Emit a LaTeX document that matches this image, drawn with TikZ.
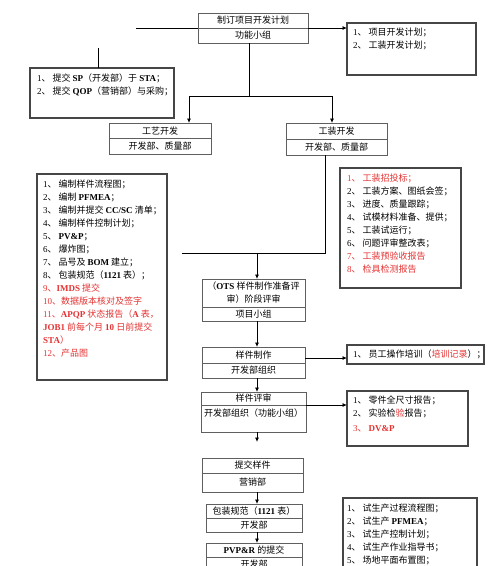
\documentclass[tikz,border=0pt]{standalone}
\usepackage{fontspec}
\setmainfont{Noto Sans CJK SC}
\newfontfamily\tnr{Liberation Serif}
\usepackage{tikz}
\usetikzlibrary{arrows.meta,positioning,calc}

\definecolor{hot}{RGB}{228,50,50}
\definecolor{boxgray}{RGB}{95,95,95}
\definecolor{notegray}{RGB}{70,70,70}
\newcommand{\lt}[1]{{\tnr\bfseries #1}}
\newcommand{\no}[1]{{\tnr #1}、}

\begin{document}
\begin{tikzpicture}[x=1pt, y=-1pt,
    font=\fontsize{9}{13}\selectfont,
    cell/.style={rectangle, draw=boxgray, line width=0.8pt, inner sep=0pt,
                outer sep=0pt, minimum height=15pt},
    note/.style={rectangle, draw=notegray, line width=1.1pt, inner sep=0pt,
                outer sep=0pt, anchor=north west},
    list/.style={anchor=north west, align=left, inner sep=0pt},
    wire/.style={line width=0.8pt},
    arr/.style={-{Latex[length=4.5pt, width=4pt]}, line width=0.8pt},
]
\useasboundingbox (0,0) rectangle (500,566);
\clip (0,0) rectangle (500,566);

% --- Main chain ---
\node[cell, minimum width=110pt, anchor=north] (plan) at (253,13) {制订项目开发计划};
\node[cell, minimum width=110pt, below=0pt of plan] (plan-g) {功能小组};
\node[cell, minimum width=102pt, minimum height=15.5pt, anchor=north] (gy) at (160,123) {工艺开发};
\node[cell, minimum width=102pt, minimum height=16pt, below=0pt of gy] (gy-g) {开发部、质量部};
\node[cell, minimum width=101pt, minimum height=16pt, anchor=north] (gz) at (336.5,123) {工装开发};
\node[cell, minimum width=101pt, minimum height=16pt, below=0pt of gz] (gz-g) {开发部、质量部};
\node[cell, minimum width=103pt, minimum height=28pt, align=center, anchor=north]
  (ots) at (253.5,279) {（\lt{OTS} 样件制作准备评\\审）阶段评审};
\node[cell, minimum width=103pt, minimum height=14pt, below=0pt of ots] (ots-g) {项目小组};
\node[cell, minimum width=103pt, minimum height=16pt, anchor=north] (zz) at (253.5,347) {样件制作};
\node[cell, minimum width=103pt, below=0pt of zz] (zz-g) {开发部组织};
\node[cell, minimum width=105pt, minimum height=13pt, anchor=north] (ps) at (253.5,392) {样件评审};
\node[cell, minimum width=105pt, text height=11pt, text depth=16pt, below=0pt of ps]
  (ps-g) {开发部组织（功能小组）};
\node[cell, minimum width=101pt, anchor=north] (tj) at (252.5,458) {提交样件};
\node[cell, minimum width=101pt, minimum height=19pt, below=0pt of tj] (tj-g) {营销部};
\node[cell, minimum width=96pt, minimum height=14pt, anchor=north] (bz) at (254,504) {包装规范（\lt{1121} 表）};
\node[cell, minimum width=96pt, minimum height=14pt, below=0pt of bz] (bz-g) {开发部};
\node[cell, minimum width=96pt, minimum height=14pt, anchor=north] (pv) at (254,543) {\lt{PVP\&R} 的提交};
\node[cell, minimum width=96pt, minimum height=14pt, below=0pt of pv] (pv-g) {开发部};

% --- Notes ---
\node[note, minimum width=144pt, minimum height=50pt] (n1) at (30,68) {};
\node[list] at ($(n1.north west)+(7,6)$)
  {\no{1} 提交 \lt{SP}（开发部）于 \lt{STA}；\\
   \no{2} 提交 \lt{QOP}（营销部）与采购；};
\node[note, minimum width=129pt, minimum height=52pt] (n2) at (347,23) {};
\node[list] at ($(n2.north west)+(6,4.5)$)
  {\no{1} 项目开发计划；\\
   \no{2} 工装开发计划；};
\node[note, minimum width=130pt, minimum height=206pt] (n3) at (37,174) {};
\node[list] at ($(n3.north west)+(6,6)$)
  {\no{1} 编制样件流程图；\\
   \no{2} 编制 \lt{PFMEA}；\\
   \no{3} 编制并提交 \lt{CC/SC} 清单；\\
   \no{4} 编制样件控制计划；\\
   \no{5} \lt{PV\&P}；\\
   \no{6} 爆炸图；\\
   \no{7} 品号及 \lt{BOM} 建立；\\
   \no{8} 包装规范（\lt{1121} 表）；\\
   \textcolor{hot}{\no{9}\lt{IMDS} 提交}\\
   \textcolor{hot}{\no{10}数据版本核对及签字}\\
   \textcolor{hot}{\no{11}\lt{APQP} 状态报告（\lt{A} 表，}\\
   \textcolor{hot}{\lt{JOB1} 前每个月 \lt{10} 日前提交}\\
   \textcolor{hot}{\lt{STA}）}\\
   \textcolor{hot}{\no{12}产品图}};
\node[note, minimum width=121pt, minimum height=120pt] (n4) at (340,168) {};
\node[list] at ($(n4.north west)+(7,5.5)$)
  {\textcolor{hot}{\no{1} 工装招投标；}\\
   \no{2} 工装方案、图纸会签；\\
   \no{3} 进度、质量跟踪；\\
   \no{4} 试模材料准备、提供；\\
   \no{5} 工装试运行；\\
   \no{6} 问题评审整改表；\\
   \textcolor{hot}{\no{7} 工装预验收报告}\\
   \textcolor{hot}{\no{8} 检具检测报告}};
\node[note, minimum width=137pt, minimum height=19pt] (n5) at (347,345) {};
\node[list] at ($(n5.north west)+(6,5)$)
  {\no{1} 员工操作培训（\textcolor{hot}{培训记录}）；};
\node[note, minimum width=121pt, minimum height=55pt] (n6) at (347,391) {};
\node[list] at ($(n6.north west)+(6,4.5)$)
  {\no{1} 零件全尺寸报告；\\
   \no{2} 实验检\textcolor{hot}{验}报告；\\[2pt]
   \textcolor{hot}{\no{3} \lt{DV\&P}}};
\node[note, minimum width=134pt, minimum height=80pt] (n7) at (343,498) {};
\node[list] at ($(n7.north west)+(4,5.5)$)
  {\no{1} 试生产过程流程图；\\
   \no{2} 试生产 \lt{PFMEA}；\\
   \no{3} 试生产控制计划；\\
   \no{4} 试生产作业指导书；\\
   \no{5} 场地平面布置图；};

% --- Connectors ---
\coordinate (lstub) at (136,28);
\coordinate (vstub) at (98,48);
\coordinate (fork) at (249,96);
\coordinate (fl) at (189,96);
\coordinate (fr) at (332,96);
\coordinate (jn) at (325,253);
\coordinate (jl) at (182,253);
\coordinate (jm) at (257,253);
\coordinate (ps-end) at (257,442);

\draw[wire] (lstub) -- (plan.south west);
\draw[wire] (vstub) -- (vstub |- n1.north);
\draw[arr] (plan.south east) -- (plan.south east -| n2.west);
\draw[wire] (plan-g.south -| fork) -- (fork);
\draw[wire] (fl) -- (fr);
\draw[arr] (fl) -- (fl |- gy.north);
\draw[arr] (fr) -- (fr |- gz.north);
\draw[wire] (gz-g.south -| jn) -- (jn) -- (jl);
\draw[arr] (jm) -- (jm |- ots.north);
\draw[arr] (ots-g.south -| jm) -- (jm |- zz.north);
\draw[arr] ([yshift=-3pt]zz.east) -- ([yshift=-3pt]zz.east -| n5.west);
\draw[arr] (zz-g.south -| jm) -- (jm |- ps.north);
\draw[arr] (ps.south east) -- (ps.south east -| n6.west);
\draw[arr] (ps-g.south -| ps-end) -- (ps-end);
\draw[arr] (tj-g.south -| jm) -- (jm |- bz.north);
\draw[arr] (bz-g.south -| jm) -- (jm |- pv.north);

\end{tikzpicture}
\end{document}
